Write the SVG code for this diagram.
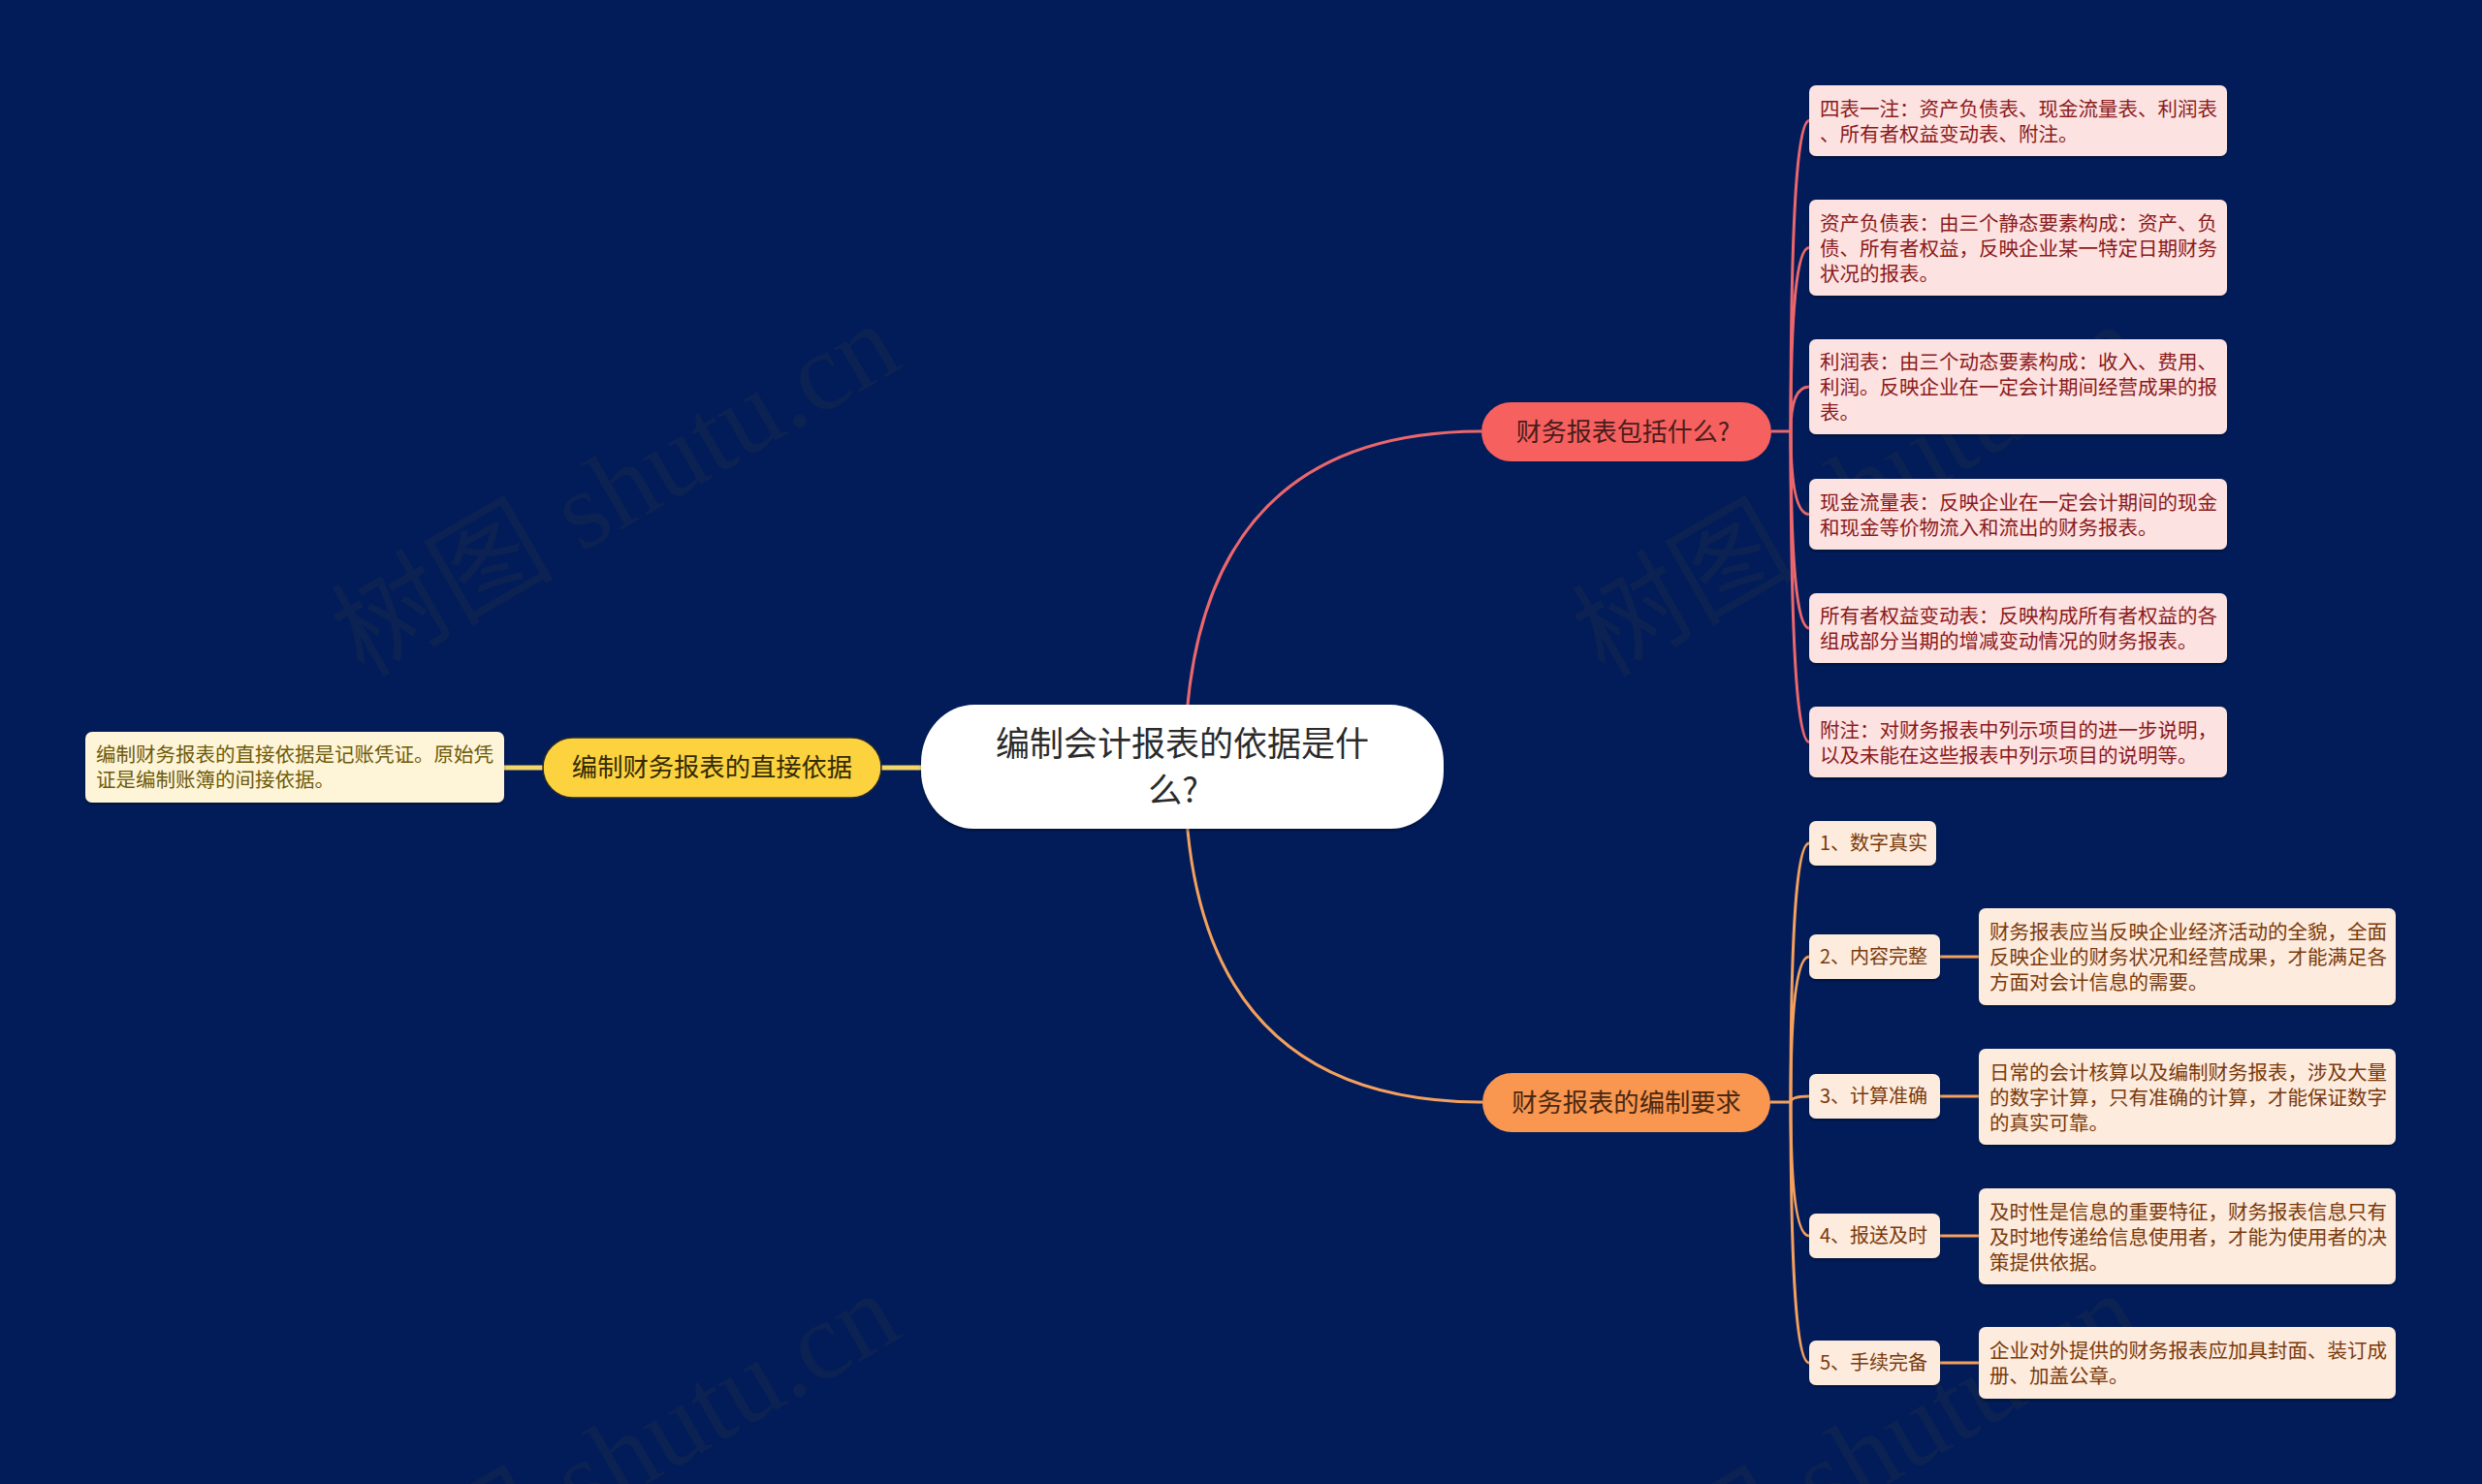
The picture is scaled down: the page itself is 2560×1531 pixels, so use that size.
<svg xmlns="http://www.w3.org/2000/svg" width="2560" height="1531" viewBox="0 0 2560 1531">
<defs>
<style>
.cjk{font-family:"Noto Sans CJK SC","Noto Sans",sans-serif;}
.wm{font-family:"Liberation Serif","Noto Sans CJK SC",serif;font-size:115px;fill:#3a3a3a;fill-opacity:0.2;}
.lp{fill:#FDE2E2;}
.lpt{fill:#8B1A1A;font-size:20.5px;}
.lo{fill:#FDEBDD;}
.lot{fill:#7A3A0C;font-size:20.5px;}
.rt{fill:#7A3A0C;font-size:20px;}
.cr{fill:none;stroke:#EC676C;stroke-width:3;}
.co{fill:none;stroke:#F4A05E;stroke-width:3;}
.cy{fill:none;stroke:#F2D66A;stroke-width:5;}
</style>
<filter id="sh" x="-10%" y="-20%" width="120%" height="150%">
<feDropShadow dx="0" dy="2" stdDeviation="1.5" flood-color="#000" flood-opacity="0.35"/>
</filter>
</defs>
<rect width="2560" height="1531" fill="#011C59"/>

<g id="watermarks">
<text class="wm" transform="translate(375,700) rotate(-30)">树图 shutu.cn</text>
<text class="wm" transform="translate(1655,700) rotate(-30)">树图 shutu.cn</text>
<text class="wm" transform="translate(375,1700) rotate(-30)">树图 shutu.cn</text>
<text class="wm" transform="translate(1655,1700) rotate(-30)">树图 shutu.cn</text>
</g>

<g id="connectors">
<path class="cr" d="M1222 792 Q1222 445 1528 445"/>
<path class="co" d="M1222 792 Q1222 1137 1529 1137"/>
<path class="cy" d="M950 792 H909"/>
<path class="cy" d="M560 792 H520"/>
<path class="cr" d="M1827 445 H1847 Q1847 124.5 1866 124.5"/>
<path class="cr" d="M1847 445 Q1847 255.5 1866 255.5"/>
<path class="cr" d="M1847 445 Q1847 399 1866 399"/>
<path class="cr" d="M1847 445 Q1847 530.5 1866 530.5"/>
<path class="cr" d="M1847 445 Q1847 648 1866 648"/>
<path class="cr" d="M1847 445 Q1847 765.5 1866 765.5"/>
<path class="co" d="M1826 1137 H1847 Q1847 870 1866 870"/>
<path class="co" d="M1847 1137 Q1847 987 1866 987"/>
<path class="co" d="M1847 1137 Q1847 1131 1866 1131"/>
<path class="co" d="M1847 1137 Q1847 1275 1866 1275"/>
<path class="co" d="M1847 1137 Q1847 1406 1866 1406"/>
<path class="co" d="M2001 987 H2041" stroke-width="4.5"/>
<path class="co" d="M2001 1131 H2041" stroke-width="4.5"/>
<path class="co" d="M2001 1275 H2041" stroke-width="4.5"/>
<path class="co" d="M2001 1406 H2041" stroke-width="4.5"/>
</g>

<g id="central">
<rect x="950" y="727" width="539" height="128" rx="55" ry="60" fill="#FFFFFF" filter="url(#sh)"/>
<text class="cjk" font-size="35" fill="#2B2B2B" text-anchor="middle"><tspan x="1219.5" y="780">编制会计报表的依据是什</tspan><tspan x="1210" y="828">么?</tspan></text>
</g>

<g id="topic-left">
<rect x="560" y="761" width="349" height="62" rx="31" fill="#FCD33F" stroke="#2a2a2a" stroke-width="1.5"/>
<text class="cjk" font-size="26.3" fill="#332a05" text-anchor="middle" x="734.5" y="801">编制财务报表的直接依据</text>
</g>
<g id="leaf-left">
<rect x="88" y="755" width="432" height="73" rx="7" fill="#FEF5D8" filter="url(#sh)"/>
<text class="cjk" font-size="20.5" fill="#6E5A08"><tspan x="99" y="786">编制财务报表的直接依据是记账凭证。原始凭</tspan><tspan x="99" y="812">证是编制账簿的间接依据。</tspan></text>
</g>

<g id="topic-1">
<rect x="1528" y="415" width="299" height="61" rx="30.5" fill="#F6605E"/>
<text class="cjk" font-size="26" fill="#4A1C1C" text-anchor="middle" x="1674" y="455">财务报表包括什么?</text>
</g>
<g id="topic-2">
<rect x="1529" y="1107" width="297" height="61" rx="30.5" fill="#F9964F"/>
<text class="cjk" font-size="26.3" fill="#4A2812" text-anchor="middle" x="1677.5" y="1147">财务报表的编制要求</text>
</g>

<g id="p1">
<rect class="lp" x="1866" y="88" width="431" height="73" rx="7" filter="url(#sh)"/>
<text class="cjk lpt"><tspan x="1877" y="119.5">四表一注：资产负债表、现金流量表、利润表</tspan><tspan x="1877" y="145.5">、所有者权益变动表、附注。</tspan></text>
</g>
<g id="p2">
<rect class="lp" x="1866" y="206" width="431" height="99" rx="7" filter="url(#sh)"/>
<text class="cjk lpt"><tspan x="1877" y="237.5">资产负债表：由三个静态要素构成：资产、负</tspan><tspan x="1877" y="263.5">债、所有者权益，反映企业某一特定日期财务</tspan><tspan x="1877" y="289.5">状况的报表。</tspan></text>
</g>
<g id="p3">
<rect class="lp" x="1866" y="350" width="431" height="98" rx="7" filter="url(#sh)"/>
<text class="cjk lpt"><tspan x="1877" y="381">利润表：由三个动态要素构成：收入、费用、</tspan><tspan x="1877" y="407">利润。反映企业在一定会计期间经营成果的报</tspan><tspan x="1877" y="433">表。</tspan></text>
</g>
<g id="p4">
<rect class="lp" x="1866" y="494" width="431" height="73" rx="7" filter="url(#sh)"/>
<text class="cjk lpt"><tspan x="1877" y="525.5">现金流量表：反映企业在一定会计期间的现金</tspan><tspan x="1877" y="551.5">和现金等价物流入和流出的财务报表。</tspan></text>
</g>
<g id="p5">
<rect class="lp" x="1866" y="612" width="431" height="72" rx="7" filter="url(#sh)"/>
<text class="cjk lpt"><tspan x="1877" y="643">所有者权益变动表：反映构成所有者权益的各</tspan><tspan x="1877" y="669">组成部分当期的增减变动情况的财务报表。</tspan></text>
</g>
<g id="p6">
<rect class="lp" x="1866" y="729" width="431" height="73" rx="7" filter="url(#sh)"/>
<text class="cjk lpt"><tspan x="1877" y="760.5">附注：对财务报表中列示项目的进一步说明，</tspan><tspan x="1877" y="786.5">以及未能在这些报表中列示项目的说明等。</tspan></text>
</g>

<g id="r1">
<rect class="lo" x="1866" y="847" width="131" height="46" rx="7" filter="url(#sh)"/>
<text class="cjk rt" x="1877" y="877">1、数字真实</text>
</g>
<g id="r2">
<rect class="lo" x="1866" y="964" width="135" height="46" rx="7" filter="url(#sh)"/>
<text class="cjk rt" x="1877" y="994">2、内容完整</text>
</g>
<g id="r3">
<rect class="lo" x="1866" y="1108" width="135" height="46" rx="7" filter="url(#sh)"/>
<text class="cjk rt" x="1877" y="1138">3、计算准确</text>
</g>
<g id="r4">
<rect class="lo" x="1866" y="1252" width="135" height="46" rx="7" filter="url(#sh)"/>
<text class="cjk rt" x="1877" y="1282">4、报送及时</text>
</g>
<g id="r5">
<rect class="lo" x="1866" y="1383" width="135" height="46" rx="7" filter="url(#sh)"/>
<text class="cjk rt" x="1877" y="1413">5、手续完备</text>
</g>

<g id="r2-leaf">
<rect class="lo" x="2041" y="937" width="430" height="100" rx="7" filter="url(#sh)"/>
<text class="cjk lot"><tspan x="2052" y="969">财务报表应当反映企业经济活动的全貌，全面</tspan><tspan x="2052" y="995">反映企业的财务状况和经营成果，才能满足各</tspan><tspan x="2052" y="1021">方面对会计信息的需要。</tspan></text>
</g>
<g id="r3-leaf">
<rect class="lo" x="2041" y="1082" width="430" height="99" rx="7" filter="url(#sh)"/>
<text class="cjk lot"><tspan x="2052" y="1113.5">日常的会计核算以及编制财务报表，涉及大量</tspan><tspan x="2052" y="1139.5">的数字计算，只有准确的计算，才能保证数字</tspan><tspan x="2052" y="1165.5">的真实可靠。</tspan></text>
</g>
<g id="r4-leaf">
<rect class="lo" x="2041" y="1226" width="430" height="99" rx="7" filter="url(#sh)"/>
<text class="cjk lot"><tspan x="2052" y="1257.5">及时性是信息的重要特征，财务报表信息只有</tspan><tspan x="2052" y="1283.5">及时地传递给信息使用者，才能为使用者的决</tspan><tspan x="2052" y="1309.5">策提供依据。</tspan></text>
</g>
<g id="r5-leaf">
<rect class="lo" x="2041" y="1369" width="430" height="74" rx="7" filter="url(#sh)"/>
<text class="cjk lot"><tspan x="2052" y="1401">企业对外提供的财务报表应加具封面、装订成</tspan><tspan x="2052" y="1427">册、加盖公章。</tspan></text>
</g>
</svg>
